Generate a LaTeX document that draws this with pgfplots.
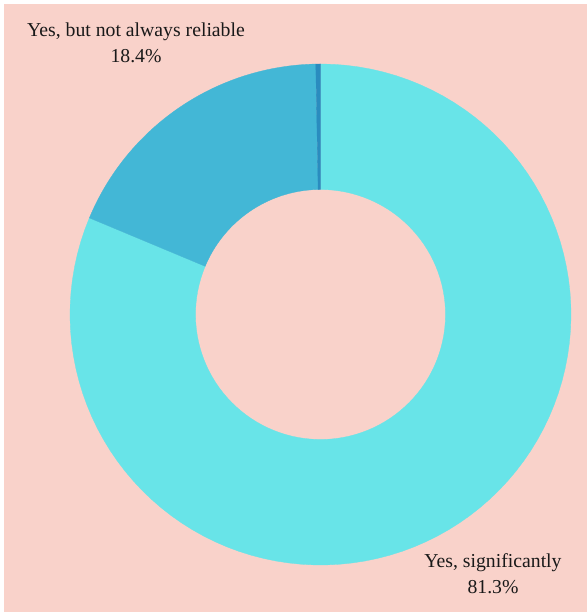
\documentclass[border=0pt]{standalone}
\usepackage{pgfplots}
\pgfplotsset{compat=1.18}
\usepackage{fontspec}
\setmainfont{Liberation Serif}
\definecolor{bgc}{HTML}{F9D2CA}
\definecolor{cA}{HTML}{68E4E8}
\definecolor{cB}{HTML}{43B7D6}
\definecolor{cC}{HTML}{2A8CBF}
% data (percent)
\def\vA{81.3}
\def\vB{18.4}
\def\vC{0.3}
\pgfmathsetmacro{\aS}{90}
\pgfmathsetmacro{\aE}{90-3.6*\vA}
\pgfmathsetmacro{\bE}{\aE-3.6*\vB}
\pgfmathsetmacro{\cE}{\bE-3.6*\vC}
\def\cx{320.5}
\def\cy{297.5}
\newcommand{\slice}[3]{%
\addplot[fill=#1, draw=#1, line width=0.3pt, domain=0:3, samples=301, variable=\t]
 ({\cx + rr(\t)*cos(th(\t,#2,#3))}, {\cy + rr(\t)*sin(th(\t,#2,#3))}) -- cycle;}
\begin{document}
\begin{tikzpicture}
\begin{axis}[
  scale only axis, width=587bp, height=612bp,
  xmin=0, xmax=587, ymin=0, ymax=612,
  hide axis, clip=false,
  declare function={
    rr(\t)=(\t<=1 ? 250.5 : (\t<=2 ? 250.5+(125-250.5)*(\t-1) : 125));
    th(\t,\a,\b)=(\t<=1 ? \a+(\b-\a)*\t : (\t<=2 ? \b : \b+(\a-\b)*(\t-2)));
  },
]
\fill[white] (axis cs:0,0) rectangle (axis cs:587,612);
\fill[bgc] (axis cs:4,0) rectangle (axis cs:587,608);
\slice{cA}{\aS}{\aE}
\slice{cB}{\aE}{\bE}
\slice{cC}{\bE}{\cE}
\node[font=\fontsize{19.8}{22}\selectfont, text=black!90] at (axis cs:136,580) {Yes, but not always reliable};
\node[font=\fontsize{19.8}{22}\selectfont, text=black!90] at (axis cs:136,556) {18.4\%};
\node[font=\fontsize{19.8}{22}\selectfont, text=black!90] at (axis cs:493,49) {Yes, significantly};
\node[font=\fontsize{19.8}{22}\selectfont, text=black!90] at (axis cs:493,25) {81.3\%};
\end{axis}
\end{tikzpicture}
\end{document}
